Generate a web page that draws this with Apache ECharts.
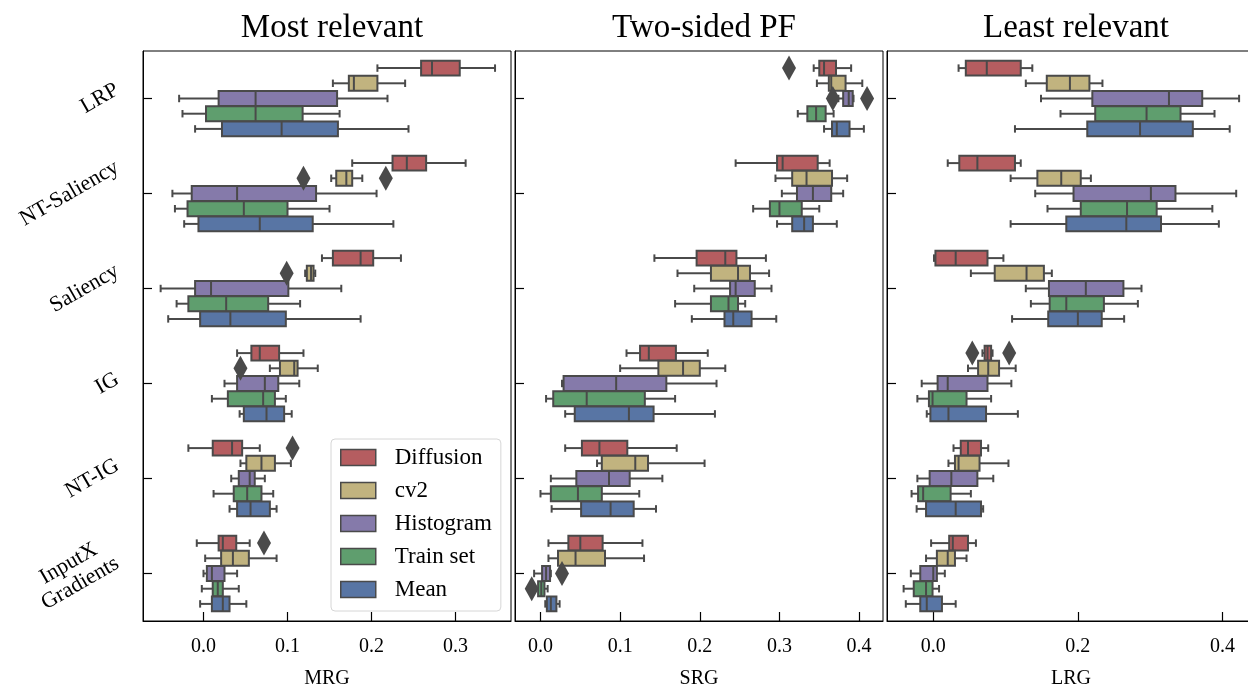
<!DOCTYPE html>
<html>
<head>
<meta charset="utf-8">
<script src="https://cdn.jsdelivr.net/npm/echarts@6/dist/echarts.min.js"></script>
<style>
  html, body { margin: 0; padding: 0; background: #fff; }
  #chart { width: 1248px; height: 689px; }
</style>
</head>
<body>
<div id="chart"></div>
<script>
const methods = ['LRP', 'NT-Saliency', 'Saliency', 'IG', 'NT-IG', 'InputX\nGradients'];
const hues = ['Diffusion', 'cv2', 'Histogram', 'Train set', 'Mean'];
const hueColors = ['#b55d60', '#c1b37f', '#857aaa', '#5f9e6e', '#5875a4'];
const panelTitles = ['Most relevant', 'Two-sided PF', 'Least relevant'];
const metricNames = ['MRG', 'SRG', 'LRG'];

// each row: [low whisker, Q1, median, Q3, high whisker], one row per method
const mrgDiffusion = [
  [0.207, 0.259, 0.272, 0.305, 0.347],
  [0.177, 0.225, 0.242, 0.265, 0.312],
  [0.141, 0.154, 0.187, 0.202, 0.235],
  [0.040, 0.057, 0.067, 0.090, 0.119],
  [-0.018, 0.011, 0.034, 0.046, 0.067],
  [-0.008, 0.018, 0.023, 0.039, 0.055]
];
const mrgCv2 = [
  [0.154, 0.173, 0.179, 0.207, 0.240],
  [0.152, 0.158, 0.170, 0.177, 0.189],
  [0.121, 0.123, 0.128, 0.131, 0.133],
  [0.079, 0.091, 0.108, 0.112, 0.136],
  [0.044, 0.051, 0.069, 0.085, 0.104],
  [0.002, 0.021, 0.035, 0.054, 0.087]
];
const mrgHistogram = [
  [-0.029, 0.018, 0.062, 0.159, 0.219],
  [-0.037, -0.014, 0.040, 0.134, 0.206],
  [-0.051, -0.010, 0.009, 0.101, 0.164],
  [0.025, 0.040, 0.073, 0.089, 0.114],
  [0.033, 0.042, 0.055, 0.061, 0.073],
  [0.000, 0.004, 0.010, 0.025, 0.040]
];
const mrgTrain = [
  [-0.025, 0.003, 0.062, 0.118, 0.162],
  [-0.034, -0.019, 0.048, 0.100, 0.150],
  [-0.032, -0.018, 0.027, 0.077, 0.115],
  [0.010, 0.029, 0.071, 0.085, 0.098],
  [0.012, 0.036, 0.052, 0.069, 0.083],
  [-0.002, 0.011, 0.017, 0.023, 0.042]
];
const mrgMean = [
  [-0.010, 0.022, 0.093, 0.160, 0.244],
  [-0.023, -0.006, 0.067, 0.130, 0.226],
  [-0.042, -0.004, 0.032, 0.098, 0.187],
  [0.043, 0.048, 0.075, 0.096, 0.105],
  [0.031, 0.040, 0.056, 0.079, 0.087],
  [-0.004, 0.010, 0.023, 0.031, 0.051]
];

const srgDiffusion = [
  [0.343, 0.350, 0.356, 0.371, 0.390],
  [0.245, 0.297, 0.304, 0.348, 0.363],
  [0.143, 0.196, 0.232, 0.246, 0.283],
  [0.108, 0.125, 0.136, 0.170, 0.210],
  [0.031, 0.052, 0.074, 0.109, 0.171],
  [0.010, 0.035, 0.050, 0.078, 0.128]
];
const srgCv2 = [
  [0.347, 0.362, 0.365, 0.383, 0.404],
  [0.295, 0.316, 0.334, 0.366, 0.385],
  [0.172, 0.214, 0.248, 0.263, 0.287],
  [0.100, 0.148, 0.179, 0.200, 0.232],
  [0.071, 0.077, 0.119, 0.135, 0.206],
  [0.010, 0.022, 0.044, 0.081, 0.130]
];
const srgHistogram = [
  [0.374, 0.380, 0.387, 0.392, 0.393],
  [0.303, 0.322, 0.342, 0.365, 0.380],
  [0.193, 0.238, 0.245, 0.269, 0.290],
  [0.027, 0.029, 0.095, 0.158, 0.221],
  [0.013, 0.045, 0.086, 0.112, 0.153],
  [-0.008, 0.002, 0.007, 0.012, 0.013]
];
const srgTrain = [
  [0.323, 0.335, 0.346, 0.358, 0.368],
  [0.267, 0.288, 0.300, 0.328, 0.350],
  [0.169, 0.214, 0.236, 0.248, 0.257],
  [0.007, 0.016, 0.058, 0.131, 0.169],
  [0.000, 0.013, 0.047, 0.077, 0.124],
  [-0.007, -0.003, 0.001, 0.005, 0.009]
];
const srgMean = [
  [0.356, 0.366, 0.372, 0.388, 0.406],
  [0.297, 0.316, 0.331, 0.342, 0.372],
  [0.190, 0.231, 0.242, 0.265, 0.296],
  [0.031, 0.043, 0.111, 0.142, 0.219],
  [0.014, 0.051, 0.088, 0.117, 0.145],
  [0.006, 0.008, 0.013, 0.020, 0.024]
];

const lrgDiffusion = [
  [0.035, 0.045, 0.074, 0.121, 0.137],
  [0.020, 0.036, 0.061, 0.113, 0.121],
  [0.001, 0.003, 0.031, 0.075, 0.097],
  [0.068, 0.071, 0.075, 0.080, 0.082],
  [0.028, 0.038, 0.048, 0.066, 0.076],
  [-0.003, 0.022, 0.027, 0.048, 0.059]
];
const lrgCv2 = [
  [0.128, 0.157, 0.189, 0.216, 0.234],
  [0.107, 0.144, 0.177, 0.204, 0.218],
  [0.052, 0.085, 0.129, 0.153, 0.164],
  [0.048, 0.062, 0.076, 0.091, 0.114],
  [0.021, 0.030, 0.035, 0.064, 0.104],
  [-0.010, 0.005, 0.020, 0.030, 0.046]
];
const lrgHistogram = [
  [0.149, 0.220, 0.326, 0.372, 0.423],
  [0.141, 0.194, 0.301, 0.335, 0.419],
  [0.128, 0.160, 0.211, 0.263, 0.288],
  [-0.016, 0.006, 0.020, 0.075, 0.108],
  [-0.022, -0.005, 0.025, 0.061, 0.083],
  [-0.031, -0.018, 0.000, 0.005, 0.016]
];
const lrgTrain = [
  [0.176, 0.224, 0.295, 0.342, 0.389],
  [0.158, 0.204, 0.268, 0.309, 0.386],
  [0.135, 0.161, 0.184, 0.236, 0.283],
  [-0.022, -0.006, -0.001, 0.046, 0.080],
  [-0.030, -0.021, -0.014, 0.024, 0.052],
  [-0.041, -0.027, -0.010, -0.001, 0.008]
];
const lrgMean = [
  [0.113, 0.213, 0.286, 0.359, 0.410],
  [0.107, 0.184, 0.267, 0.315, 0.395],
  [0.109, 0.159, 0.200, 0.233, 0.264],
  [-0.009, -0.004, 0.021, 0.073, 0.117],
  [-0.023, -0.010, 0.031, 0.066, 0.069],
  [-0.038, -0.018, -0.009, 0.012, 0.031]
];

// outliers: [method index, hue index, value]
const mrgOutliers = [[1, 1, 0.119], [1, 1, 0.217], [2, 1, 0.099], [3, 1, 0.044], [4, 0, 0.106], [5, 0, 0.072]];
const srgOutliers = [[0, 0, 0.312], [0, 2, 0.367], [0, 2, 0.410], [5, 2, 0.027], [5, 3, -0.011]];
const lrgOutliers = [[3, 0, 0.054], [3, 0, 0.105]];

const panels = [
  { boxes: [mrgDiffusion, mrgCv2, mrgHistogram, mrgTrain, mrgMean], outliers: mrgOutliers, min: -0.072, max: 0.366, split: 4, left: 143 },
  { boxes: [srgDiffusion, srgCv2, srgHistogram, srgTrain, srgMean], outliers: srgOutliers, min: -0.032, max: 0.430, split: 4, left: 515 },
  { boxes: [lrgDiffusion, lrgCv2, lrgHistogram, lrgTrain, lrgMean], outliers: lrgOutliers, min: -0.064, max: 0.445, split: 3, left: 887 }
];

const EDGE = '#4a4a4a';
const LW = 2;
const FONT = '"Liberation Serif", "Times New Roman", serif';
const GRID_TOP = 51, GRID_H = 570, GRID_W = 368;

function hueOffset(api, hueIdx) {
  const band = api.size([0, 1])[1];
  const step = band * 0.8 / hues.length;
  return { off: (hueIdx - (hues.length - 1) / 2) * step, h: step * 0.98 };
}

function boxRenderer(hueIdx) {
  return function (params, api) {
    const cat = api.value(0);
    const o = hueOffset(api, hueIdx);
    const xs = [1, 2, 3, 4, 5].map(d => api.coord([api.value(d), cat])[0]);
    const y = api.coord([0, cat])[1] + o.off;
    const h = o.h;
    const ls = { stroke: EDGE, lineWidth: LW };
    return {
      type: 'group',
      children: [
        { type: 'line', shape: { x1: xs[0], y1: y, x2: xs[1], y2: y }, style: ls },
        { type: 'line', shape: { x1: xs[3], y1: y, x2: xs[4], y2: y }, style: ls },
        { type: 'line', shape: { x1: xs[0], y1: y - h / 4, x2: xs[0], y2: y + h / 4 }, style: ls },
        { type: 'line', shape: { x1: xs[4], y1: y - h / 4, x2: xs[4], y2: y + h / 4 }, style: ls },
        { type: 'rect', shape: { x: xs[1], y: y - h / 2, width: xs[3] - xs[1], height: h },
          style: { fill: hueColors[hueIdx], stroke: EDGE, lineWidth: LW } },
        { type: 'line', shape: { x1: xs[2], y1: y - h / 2, x2: xs[2], y2: y + h / 2 }, style: ls }
      ]
    };
  };
}

function outlierRenderer(params, api) {
  const cat = api.value(0);
  const o = hueOffset(api, api.value(1));
  const p = api.coord([api.value(2), cat]);
  const y = p[1] + o.off;
  return {
    type: 'polygon',
    shape: { points: [[p[0], y - 12.5], [p[0] + 7, y], [p[0], y + 12.5], [p[0] - 7, y]] },
    style: { fill: EDGE }
  };
}

// rotated method labels, right edge of the rotated box at a fixed gap from the axis
const measureCtx = document.createElement('canvas').getContext('2d');
const LABEL_SIZE = 22, LABEL_LH = 23;
measureCtx.font = LABEL_SIZE + 'px ' + FONT;
function labelRenderer(params, api) {
  const cat = api.value(0);
  const text = methods[cat];
  const lines = text.split('\n');
  const L = Math.max.apply(null, lines.map(s => measureCtx.measureText(s).width));
  const H = lines.length * LABEL_LH;
  const a = Math.PI / 6;
  const p = api.coord([panels[0].min, cat]);
  const cx = p[0] - 20 - (L * Math.cos(a) + H * Math.sin(a)) / 2;
  return {
    type: 'text',
    x: cx, y: p[1], rotation: a,
    style: {
      text: text, fill: '#000', font: LABEL_SIZE + 'px ' + FONT,
      align: 'center', verticalAlign: 'middle', textAlign: 'center', textVerticalAlign: 'middle',
      lineHeight: LABEL_LH
    }
  };
}

const grids = [], xAxes = [], yAxes = [], titles = [], series = [];
panels.forEach((pn, k) => {
  grids.push({
    left: pn.left, top: GRID_TOP, width: GRID_W, height: GRID_H,
    outerBoundsMode: 'none', containLabel: false,
    show: true, borderColor: '#000', borderWidth: 1
  });
  titles.push({
    text: panelTitles[k], left: pn.left + GRID_W / 2, top: 7, textAlign: 'center',
    textStyle: { fontFamily: FONT, fontSize: 33, fontWeight: 'normal', color: '#000' }
  });
  xAxes.push({
    gridIndex: k, type: 'value', min: pn.min, max: pn.max, splitNumber: pn.split,
    axisLine: { show: true, onZero: false, lineStyle: { color: '#000', width: 1 } },
    axisTick: { show: true, inside: true, length: 9, lineStyle: { color: '#000', width: 1.2 } },
    axisLabel: { color: '#000', fontFamily: FONT, fontSize: 20, margin: 16, showMinLabel: false, showMaxLabel: false,
      formatter: v => v.toFixed(1) },
    splitLine: { show: false },
    name: metricNames[k], nameLocation: 'middle', nameGap: 48,
    nameTextStyle: { fontFamily: FONT, fontSize: 20, color: '#000' }
  });
  yAxes.push({
    gridIndex: k, type: 'category', data: methods, inverse: true,
    axisLine: { show: true, onZero: false, lineStyle: { color: '#000', width: 1 } },
    axisTick: { show: true, inside: true, alignWithLabel: true, length: 9, lineStyle: { color: '#000', width: 1.2 } },
    axisLabel: { show: false },
    splitLine: { show: false }
  });
  pn.boxes.forEach((rows, h) => {
    series.push({
      type: 'custom', name: hues[h], xAxisIndex: k, yAxisIndex: k,
      itemStyle: { color: hueColors[h] },
      renderItem: boxRenderer(h),
      encode: { y: 0, x: [1, 2, 3, 4, 5] },
      data: rows.map((r, i) => [i].concat(r)),
      z: 2
    });
  });
  series.push({
    type: 'custom', name: 'outliers-' + k, xAxisIndex: k, yAxisIndex: k,
    renderItem: outlierRenderer,
    encode: { y: 0, x: 2 },
    data: pn.outliers,
    z: 3
  });
});
series.push({
  type: 'custom', name: 'method-labels', xAxisIndex: 0, yAxisIndex: 0,
  renderItem: labelRenderer, encode: { y: 0 },
  data: methods.map((m, i) => [i]),
  clip: false, silent: true
});

const chart = echarts.init(document.getElementById('chart'), null, { renderer: 'canvas' });
chart.setOption({
  animation: false,
  backgroundColor: '#fff',
  title: titles,
  grid: grids,
  xAxis: xAxes,
  yAxis: yAxes,
  legend: {
    data: hues.map((h, i) => ({ name: h, icon: 'rect', itemStyle: { color: hueColors[i], borderColor: EDGE, borderWidth: 1.5 } })),
    orient: 'vertical', left: 331, top: 439,
    itemWidth: 35, itemHeight: 16, itemGap: 10,
    padding: [7, 9, 10, 9],
    borderColor: '#d6d6d6', borderWidth: 1, borderRadius: 4,
    backgroundColor: 'rgba(255,255,255,0.85)',
    selectedMode: false,
    textStyle: { fontFamily: FONT, fontSize: 23, color: '#000', lineHeight: 23, padding: [0, 0, 0, 14] }
  },
  series: series
});
</script>
</body>
</html>
